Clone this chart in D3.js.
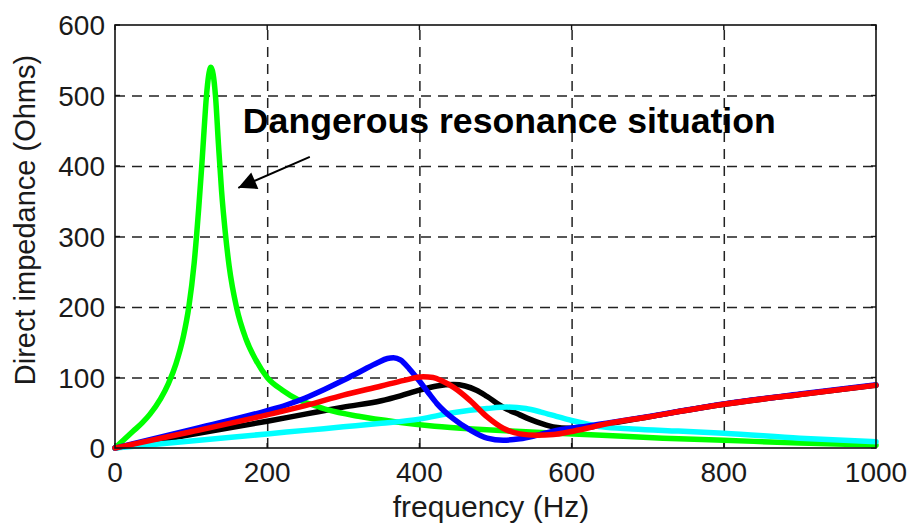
<!DOCTYPE html>
<html>
<head>
<meta charset="utf-8">
<script src="https://cdn.jsdelivr.net/npm/d3@7"></script>
<style>
  html, body { margin: 0; padding: 0; background: #fff; }
  svg { display: block; }
  text { font-family: "Liberation Sans", Arial, sans-serif; }
</style>
</head>
<body>
<svg id="chart" width="909" height="525"></svg>
<script>
// ---- Data (frequency in Hz, impedance in Ohms) ----
const xTicks = [0, 200, 400, 600, 800, 1000];
const yTicks = [0, 100, 200, 300, 400, 500, 600];

const blackHz = [0, 100, 200, 250, 300, 350, 375, 400, 423, 445, 460, 475, 489, 510, 532, 554, 576, 598, 620, 640, 700, 800, 900, 1000];
const blackZ  = [0, 19, 38, 48, 58, 67, 74, 82, 88, 90, 88, 82, 73, 58, 47, 37, 30, 28, 29, 33, 44, 62, 76, 89];

const greenHz = [0, 12, 24, 36, 46, 60, 70, 80, 90, 97, 104, 110, 114, 117, 120, 123, 126, 129, 132, 136, 140, 145, 150, 160, 172, 185, 200, 220, 240, 260, 280, 320, 370, 420, 470, 520, 580, 640, 720, 800, 900, 1000];
const greenZ  = [0, 12, 24, 36, 48, 70, 91, 119, 159, 200, 262, 340, 400, 450, 497, 528, 540, 530, 500, 430, 365, 305, 258, 198, 155, 125, 100, 82, 69, 61, 54, 45, 37, 31, 27, 24, 21, 18, 14, 11, 7, 4];

const cyanHz = [0, 100, 200, 250, 300, 350, 400, 444, 489, 515, 540, 560, 580, 600, 620, 640, 680, 740, 800, 900, 1000];
const cyanZ  = [0, 10, 20, 25, 30, 35, 41, 50, 56, 58, 56, 51, 45, 39, 34, 30, 27, 24, 21, 14, 9];

const blueHz = [0, 100, 200, 225, 250, 275, 300, 325, 345, 358, 366, 375, 387, 400, 412, 423, 444, 466, 489, 510, 532, 554, 576, 598, 620, 650, 700, 800, 900, 1000];
const blueZ  = [0, 26, 53, 61, 71, 83, 96, 110, 121, 127, 128, 125, 112, 95, 78, 63, 42, 26, 14, 11, 13, 18, 24, 28, 31, 36, 44.5, 62.5, 76.5, 89.5];

const redHz = [0, 100, 200, 250, 300, 350, 380, 405, 418, 430, 445, 466, 489, 510, 532, 554, 576, 598, 620, 640, 700, 800, 900, 1000];
const redZ  = [0, 23, 47, 60, 75, 88, 96, 101, 100, 95, 86, 68, 44, 28, 20, 18, 19, 23, 28, 33, 44, 62, 76, 89];

// annotation (in data units)
const noteText = "Dangerous resonance situation";
const noteAt = [168, 447];
const arrowFrom = [256, 413];
const arrowTo = [162, 369];

// ---- Layout ----
const svg = d3.select("#chart");
const L = 115, R = 876, T = 25, B = 448;
const x = d3.scaleLinear().domain([0, 1000]).range([L, R]);
const y = d3.scaleLinear().domain([0, 600]).range([B, T]);

// Grid
const gx = svg.append("g").attr("transform", `translate(0,${B})`)
  .call(d3.axisBottom(x).tickValues(xTicks.slice(1, -1)).tickSize(-(B - T)).tickFormat(""));
gx.select(".domain").remove();
gx.selectAll("line").attr("stroke", "#222").attr("stroke-width", 1.5).attr("stroke-dasharray", "10,7");

const gy = svg.append("g").attr("transform", `translate(${L},0)`)
  .call(d3.axisLeft(y).tickValues(yTicks.slice(1, -1)).tickSize(-(R - L)).tickFormat(""));
gy.select(".domain").remove();
gy.selectAll("line").attr("stroke", "#222").attr("stroke-width", 1.5).attr("stroke-dasharray", "10,7");

// inner ticks on all sides
const tk = 5;
const ticksG = svg.append("g").attr("stroke", "#111").attr("stroke-width", 1.4);
xTicks.forEach(v => {
  ticksG.append("line").attr("x1", x(v)).attr("x2", x(v)).attr("y1", B).attr("y2", B - tk);
  ticksG.append("line").attr("x1", x(v)).attr("x2", x(v)).attr("y1", T).attr("y2", T + tk);
});
yTicks.forEach(v => {
  ticksG.append("line").attr("x1", L).attr("x2", L + tk).attr("y1", y(v)).attr("y2", y(v));
  ticksG.append("line").attr("x1", R).attr("x2", R - tk).attr("y1", y(v)).attr("y2", y(v));
});

// Series
const series = [
  { hz: blackHz, z: blackZ, color: "#000000" },
  { hz: greenHz, z: greenZ, color: "#00ff00" },
  { hz: cyanHz,  z: cyanZ,  color: "#00ffff" },
  { hz: blueHz,  z: blueZ,  color: "#0000ff" },
  { hz: redHz,   z: redZ,   color: "#ff0000" }
];
const line = d3.line().x(d => x(d[0])).y(d => y(d[1])).curve(d3.curveMonotoneX);
series.forEach(s => {
  svg.append("path")
    .datum(s.hz.map((h, i) => [h, s.z[i]]))
    .attr("fill", "none")
    .attr("stroke", s.color)
    .attr("stroke-width", 5.5)
    .attr("stroke-linejoin", "round")
    .attr("stroke-linecap", "round")
    .attr("d", line);
});

// Axes box
svg.append("rect").attr("x", L).attr("y", T).attr("width", R - L).attr("height", B - T)
  .attr("fill", "none").attr("stroke", "#111").attr("stroke-width", 1.6);

// Tick labels
svg.append("g").selectAll("text").data(xTicks).join("text")
  .attr("x", d => x(d)).attr("y", 482)
  .attr("text-anchor", "middle").attr("font-size", 28).attr("fill", "#1a1a1a")
  .text(d => d);
svg.append("g").selectAll("text").data(yTicks).join("text")
  .attr("x", L - 10).attr("y", d => y(d)).attr("dy", "0.36em")
  .attr("text-anchor", "end").attr("font-size", 28).attr("fill", "#1a1a1a")
  .text(d => d);

// Axis titles
svg.append("text").attr("x", 491).attr("y", 517).attr("text-anchor", "middle")
  .attr("font-size", 30).attr("fill", "#1a1a1a").text("frequency (Hz)");
svg.append("text").attr("transform", "translate(35,220) rotate(-90)").attr("text-anchor", "middle")
  .attr("font-size", 29).attr("fill", "#1a1a1a").text("Direct impedance (Ohms)");

// Annotation
svg.append("text").attr("x", x(noteAt[0])).attr("y", y(noteAt[1]))
  .attr("font-size", 35).attr("font-weight", "bold").attr("fill", "#000")
  .attr("textLength", 533).attr("lengthAdjust", "spacingAndGlyphs")
  .text(noteText);

svg.append("defs").append("marker")
  .attr("id", "ah").attr("viewBox", "0 0 10 10").attr("refX", 10).attr("refY", 5)
  .attr("markerUnits", "userSpaceOnUse").attr("markerWidth", 22).attr("markerHeight", 18)
  .attr("orient", "auto")
  .append("path").attr("d", "M0,0 L10,5 L0,10 z").attr("fill", "#000");
svg.append("line")
  .attr("x1", x(arrowFrom[0])).attr("y1", y(arrowFrom[1]))
  .attr("x2", x(arrowTo[0])).attr("y2", y(arrowTo[1]))
  .attr("stroke", "#000").attr("stroke-width", 2)
  .attr("marker-end", "url(#ah)");
</script>
</body>
</html>
